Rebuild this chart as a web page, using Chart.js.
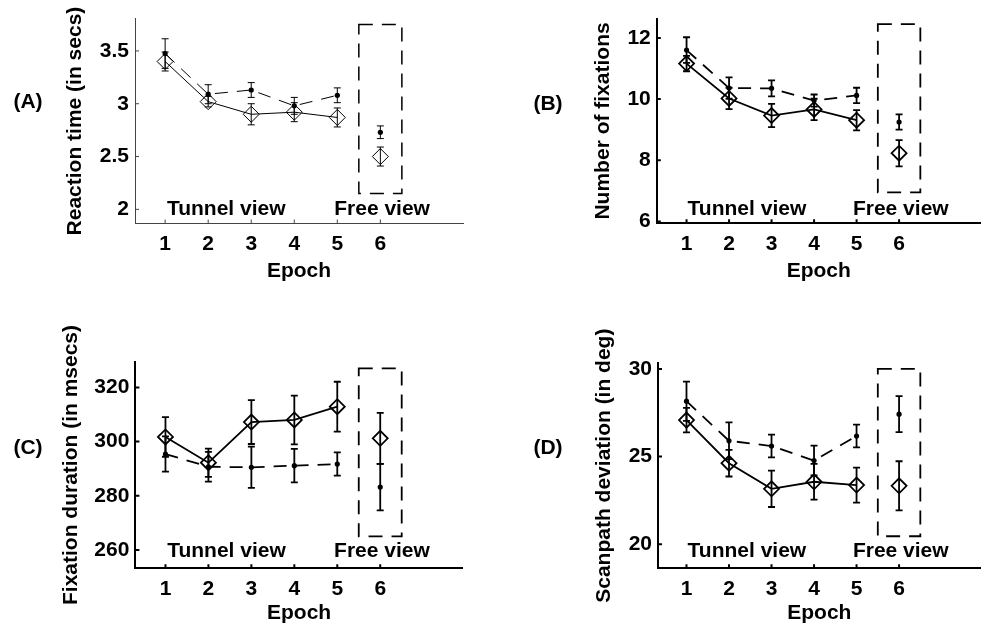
<!DOCTYPE html>
<html><head><meta charset="utf-8">
<script src="https://cdn.jsdelivr.net/npm/chart.js@4.4.1/dist/chart.umd.min.js"></script>
<style>
html,body{margin:0;padding:0;background:#fff;overflow:hidden;width:984px;height:630px;position:relative;}
canvas{position:absolute;}
.lab{position:absolute;font:bold 21px 'Liberation Sans',Arial,sans-serif;color:#000;transform:translate(-50%,-50%);white-space:nowrap;}
</style></head><body>
<canvas id="cA"></canvas><canvas id="cB"></canvas><canvas id="cC"></canvas><canvas id="cD"></canvas>
<div class="lab" style="left:28px;top:101px">(A)</div>
<div class="lab" style="left:548px;top:103px">(B)</div>
<div class="lab" style="left:28px;top:447px">(C)</div>
<div class="lab" style="left:548px;top:447px">(D)</div>
<script>
// ---------- data ----------
const epochs = [1, 2, 3, 4, 5, 6];
const xTickValues = [1, 2, 3, 4, 5, 6];
const xTitle = 'Epoch';
const regionLabels = ['Tunnel view', 'Free view'];
const freeBoxX = [5.5, 6.5];

// (A) Reaction time
const yTicksA = [2, 2.5, 3, 3.5];
const diamondA = [3.40, 3.02, 2.90, 2.92, 2.87, 2.50];
const diamondErrA = [0.09, 0.05, 0.10, 0.09, 0.09, 0.09];
const dotA = [3.475, 3.09, 3.13, 2.98, 3.08, 2.73];
const dotErrA = [0.14, 0.09, 0.07, 0.08, 0.07, 0.06];
const boxYA = [2.15, 3.75];

// (B) Number of fixations
const yTicksB = [6, 8, 10, 12];
const diamondB = [11.16, 10.02, 9.46, 9.66, 9.31, 8.23];
const diamondErrB = [0.25, 0.35, 0.38, 0.35, 0.33, 0.43];
const dotB = [11.6, 10.36, 10.35, 9.95, 10.12, 9.25];
const dotErrB = [0.42, 0.35, 0.26, 0.20, 0.25, 0.25];
const boxYB = [6.95, 12.45];

// (C) Fixation duration
const yTicksC = [260, 280, 300, 320];
const diamondC = [301.7, 292.2, 307.2, 308.0, 312.9, 301.2];
const diamondErrC = [7.3, 5.2, 8.1, 9.0, 9.2, 9.4];
const dotC = [295.4, 290.7, 290.5, 291.1, 291.7, 283.2];
const dotErrC = [6.5, 5.5, 7.6, 6.2, 4.3, 8.6];
const boxYC = [265, 327];

// (D) Scanpath deviation
const yTicksD = [20, 25, 30];
const diamondD = [27.08, 24.62, 23.16, 23.56, 23.37, 23.33];
const diamondErrD = [0.70, 0.76, 1.04, 1.02, 1.00, 1.40];
const dotD = [28.16, 25.9, 25.6, 24.77, 26.17, 27.42];
const dotErrD = [1.12, 1.05, 0.65, 0.85, 0.65, 1.03];
const boxYD = [20.45, 30.0];

const yTitles = ['Reaction time (in secs)', 'Number of fixations', 'Fixation duration (in msecs)', 'Scanpath deviation (in deg)'];

// ---------- drawing ----------
const FONT = "'Liberation Sans', Arial, sans-serif";
const FS = 21;
const FW = 'bold';
const HALF_LH = FS * 1.2 / 2;

const decorPlugin = {
  id: 'decor',
  beforeDatasetsDraw(chart) {
    const o = chart.options.plugins.decor;
    const xs = chart.scales.x, ys = chart.scales.y, ctx = chart.ctx;
    ctx.save();
    // dashed "free view" box
    ctx.strokeStyle = '#000';
    ctx.lineWidth = o.boxW;
    ctx.setLineDash([14, 9]);
    const bx1 = xs.getPixelForValue(o.boxX[0]), bx2 = xs.getPixelForValue(o.boxX[1]);
    const by1 = ys.getPixelForValue(o.boxY[1]), by2 = ys.getPixelForValue(o.boxY[0]);
    ctx.strokeRect(bx1, by1, bx2 - bx1, by2 - by1);
    ctx.setLineDash([]);
    // region labels
    ctx.fillStyle = '#000';
    ctx.font = FW + ' ' + FS + 'px ' + FONT;
    ctx.textAlign = 'center';
    ctx.textBaseline = 'middle';
    ctx.fillText(regionLabels[0], xs.getPixelForValue(o.textX[0]), ys.getPixelForValue(o.textY));
    ctx.fillText(regionLabels[1], xs.getPixelForValue(o.textX[1]), ys.getPixelForValue(o.textY));
    // error bars
    ctx.lineWidth = o.lw;
    chart.data.datasets.forEach(ds => {
      if (!ds.errors) return;
      ds.data.forEach((p, i) => {
        const px = xs.getPixelForValue(p.x);
        const t = ys.getPixelForValue(p.y + ds.errors[i]);
        const b = ys.getPixelForValue(p.y - ds.errors[i]);
        ctx.beginPath();
        ctx.moveTo(px, t); ctx.lineTo(px, b);
        ctx.moveTo(px - 3.5, t); ctx.lineTo(px + 3.5, t);
        ctx.moveTo(px - 3.5, b); ctx.lineTo(px + 3.5, b);
        ctx.stroke();
      });
    });
    ctx.restore();
  },
  afterDraw(chart) {
    const o = chart.options.plugins.decor;
    const xs = chart.scales.x, ys = chart.scales.y, ctx = chart.ctx;
    const a = chart.chartArea;
    ctx.save();
    ctx.strokeStyle = o.axisColor;
    ctx.lineWidth = o.axisW;
    ctx.beginPath();
    xs.ticks.forEach(t => {
      const px = xs.getPixelForValue(t.value);
      ctx.moveTo(px, a.bottom); ctx.lineTo(px, a.bottom - 4);
    });
    ys.ticks.forEach(t => {
      const py = ys.getPixelForValue(t.value);
      ctx.moveTo(a.left, py); ctx.lineTo(a.left + 4, py);
    });
    ctx.stroke();
    ctx.restore();
  }
};

function makePanel(c) {
  const cv = document.getElementById(c.id);
  cv.width = c.w; cv.height = c.h;
  cv.style.left = c.left + 'px'; cv.style.top = c.top + 'px';
  const pts = arr => epochs.map((x, i) => ({x: x, y: arr[i]}));
  const hideLast = ctx => ctx.p1DataIndex === 5 ? 'rgba(0,0,0,0)' : '#000';
  const font = {family: FONT, size: FS, weight: FW};
  new Chart(cv, {
    type: 'line',
    data: {
      datasets: [
        {
          data: pts(c.diamond), errors: c.diamondErr,
          borderColor: '#000', borderWidth: c.lw,
          segment: {borderColor: hideLast},
          pointStyle: 'rectRot', pointRadius: c.dr,
          pointBorderColor: '#000', pointBackgroundColor: 'rgba(0,0,0,0)', pointBorderWidth: c.lw,
          fill: false, tension: 0
        },
        {
          data: pts(c.dot), errors: c.dotErr,
          borderColor: '#000', borderWidth: c.lw, borderDash: [13, 9],
          segment: {borderColor: hideLast},
          pointStyle: 'circle', pointRadius: 2.6,
          pointBorderWidth: 0, pointBackgroundColor: '#000',
          fill: false, tension: 0
        }
      ]
    },
    options: {
      responsive: false, animation: false, devicePixelRatio: 1,
      layout: {padding: {left: 0, top: c.axisTop - c.top, right: (c.left + c.w) - c.chartRight, bottom: 0}},
      plugins: {
        legend: {display: false}, tooltip: {enabled: false},
        decor: {boxX: freeBoxX, boxY: c.boxY, textX: [2.42, 6.04], textY: c.textY,
                lw: c.lw, boxW: c.boxW, axisColor: c.axisColor, axisW: c.axisW}
      },
      scales: {
        x: {
          type: 'linear', min: c.xMin, max: 7.92,
          afterBuildTicks: s => { s.ticks = xTickValues.map(v => ({value: v})); },
          afterFit: s => { s.height = (c.top + c.h) - c.axisBottom; },
          grid: {display: false, drawTicks: false},
          border: {display: true, color: c.axisColor, width: c.axisW},
          ticks: {autoSkip: false, maxRotation: 0, padding: 21 - HALF_LH, color: '#000',
                  font: font, callback: v => String(v)},
          title: {display: true, text: xTitle, color: '#000', font: font,
                  padding: {top: 0, bottom: (c.top + c.h) - c.epochY - HALF_LH}}
        },
        y: {
          type: 'linear', min: c.yMin, max: c.yMax,
          afterBuildTicks: s => { s.ticks = c.yTicks.map(v => ({value: v})); },
          afterFit: s => { s.width = c.axisX - c.left; },
          grid: {display: false, drawTicks: false},
          border: {display: true, color: c.axisColor, width: c.axisW},
          ticks: {autoSkip: false, padding: 6, color: '#000',
                  font: font, callback: v => String(v)},
          title: {display: true, text: c.yTitle, color: '#000', font: font,
                  padding: {top: c.titleX - c.left - HALF_LH, bottom: 0}}
        }
      }
    },
    plugins: [decorPlugin]
  });
}

makePanel({id: 'cA', left: 0, top: 0, w: 472, h: 300, axisX: 135, chartRight: 467.2,
  axisTop: 18.3, axisBottom: 223.5, xMin: 0.3, yMin: 1.866, yMax: 3.806, yTicks: yTicksA,
  titleX: 75, epochY: 271, lw: 1, boxW: 1.5, axisColor: '#444', axisW: 1, dr: 8, textY: 2.0,
  diamond: diamondA, diamondErr: diamondErrA, dot: dotA, dotErr: dotErrA, boxY: boxYA, yTitle: yTitles[0]});

makePanel({id: 'cB', left: 490, top: 0, w: 500, h: 300, axisX: 656.8, chartRight: 988.5,
  axisTop: 18.3, axisBottom: 223.3, xMin: 0.3, yMin: 5.94, yMax: 12.63, yTicks: yTicksB,
  titleX: 603.3, epochY: 271, lw: 1.8, boxW: 1.8, axisColor: '#000', axisW: 2, dr: 7.5, textY: 6.39,
  diamond: diamondB, diamondErr: diamondErrB, dot: dotB, dotErr: dotErrB, boxY: boxYB, yTitle: yTitles[1]});

makePanel({id: 'cC', left: 0, top: 315, w: 472, h: 315, axisX: 135.4, chartRight: 467.2,
  axisTop: 361.7, axisBottom: 568.3, xMin: 0.3, yMin: 253.2, yMax: 329.5, yTicks: yTicksC,
  titleX: 71, epochY: 613, lw: 1.8, boxW: 1.8, axisColor: '#000', axisW: 2, dr: 7.5, textY: 259.5,
  diamond: diamondC, diamondErr: diamondErrC, dot: dotC, dotErr: dotErrC, boxY: boxYC, yTitle: yTitles[2]});

makePanel({id: 'cD', left: 490, top: 315, w: 500, h: 315, axisX: 658, chartRight: 988.5,
  axisTop: 363, axisBottom: 568.3, xMin: 0.33, yMin: 18.62, yMax: 30.34, yTicks: yTicksD,
  titleX: 604, epochY: 613.5, lw: 1.8, boxW: 1.8, axisColor: '#000', axisW: 2, dr: 7.5, textY: 19.57,
  diamond: diamondD, diamondErr: diamondErrD, dot: dotD, dotErr: dotErrD, boxY: boxYD, yTitle: yTitles[3]});
</script>
</body></html>
